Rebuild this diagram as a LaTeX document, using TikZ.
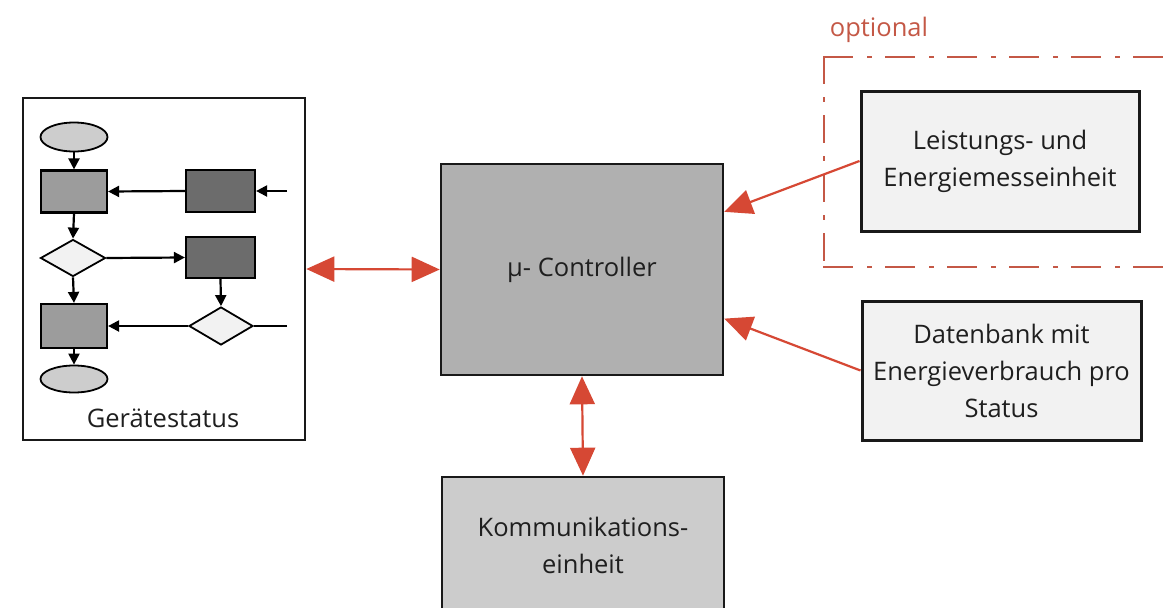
\documentclass[tikz,border=0pt]{standalone}
\usepackage{fontspec}
\setmainfont{Open Sans}
\usetikzlibrary{arrows.meta,shapes.geometric,calc}

\definecolor{linkred}{RGB}{214,72,52}
\definecolor{optred}{RGB}{196,88,70}
\definecolor{midgray}{RGB}{156,156,156}
\definecolor{darkgray}{RGB}{108,108,108}
\definecolor{ctrlgray}{RGB}{176,176,176}
\definecolor{commgray}{RGB}{204,204,204}
\definecolor{palegray}{RGB}{242,242,242}
\definecolor{ovalgray}{RGB}{205,205,205}

\tikzset{
  txt/.style={font=\fontsize{25.5}{37}\selectfont, text=black!88, align=center},
  bigbox/.style={draw=black!90, line width=2.6pt, inner sep=0pt, txt},
  oval/.style={ellipse, draw=black, line width=1.8pt, fill=ovalgray, inner sep=0pt, minimum width=67pt, minimum height=29pt},
  procbox/.style={draw=black, line width=2.2pt, fill=midgray, inner sep=0pt, minimum width=66pt, minimum height=42pt},
  darkbox/.style={draw=black, line width=2.2pt, fill=darkgray, inner sep=0pt, minimum width=69pt, minimum height=42pt},
  decide/.style={diamond, draw=black, line width=1.8pt, fill=palegray, inner sep=0pt, minimum width=65pt, minimum height=37pt},
  flow/.style={draw=black, line width=2.2pt, -{Triangle[length=11pt,width=11pt]}},
  link/.style={draw=linkred, line width=2.2pt, fill=linkred},
  bihead/.style={link, {Triangle[length=28pt,width=25pt]}-{Triangle[length=28pt,width=25pt]}},
  onehead/.style={link, -{Triangle[length=28pt,width=25pt]}},
  optframe/.style={optred, line width=2.4pt, line cap=rect},
}

\begin{document}
\begin{tikzpicture}[x=1pt,y=-1pt]
\clip (0,0) rectangle (1168,608);
\fill[white] (0,0) rectangle (1168,608);

% device status panel with its small flowchart
\node[bigbox, fill=white, minimum width=282pt, minimum height=342pt] (gs) at (164,269) {};
\node[txt] (gslabel) at (163,418) {Gerätestatus};

\node[oval] (e1) at (74,137) {};
\node[procbox] (r1) at (74,191.5) {};
\node[decide] (d1) at (73,258) {};
\node[procbox, minimum height=44pt] (r2) at (74,326) {};
\node[oval, minimum height=27pt] (e2) at (74,379) {};
\node[darkbox] (k1) at (220.5,191) {};
\node[darkbox, minimum height=41pt] (k2) at (220.5,257.5) {};
\node[decide, minimum width=64pt, minimum height=38pt] (d2) at (221,326) {};
\coordinate (in1) at (287,191);
\coordinate (in2) at (287,326);

\draw[flow] (e1.south) -- (r1.north);
\draw[flow] (in1) -- (k1.east);
\draw[flow] (k1.west) -- (r1.east);
\draw[flow] (r1.south) -- (d1.north);
\draw[flow] (d1.east) -- (k2.west);
\draw[flow] (d1.south) -- (r2.north);
\draw[flow] (k2.south) -- (d2.north);
\draw[black, line width=2.2pt] (in2) -- (d2.east);
\draw[flow] (d2.west) -- (r2.east);
\draw[flow] (r2.south) -- (e2.north);

% central controller and communication unit
\node[bigbox, fill=ctrlgray, minimum width=282pt, minimum height=211pt] (ctrl) at (582,269.5) {µ- Controller};
\node[bigbox, fill=commgray, minimum width=282pt, minimum height=150pt] (comm) at (583,552) {};
\node[txt] (commlabel) at (583,545) {Kommunikations-\\einheit};

% optional measuring unit inside a dash-dotted frame, open to the right
\coordinate (ftl) at (824,57);
\coordinate (fbl) at (824,267);
\coordinate (ftr) at (1170,57);
\coordinate (fbr) at (1170,267);
\draw[optframe, dash pattern=on 28pt off 16pt on 3pt off 15pt] (ftl) -- (ftr);
\draw[optframe, dash pattern=on 28pt off 16pt on 3pt off 15pt] (fbl) -- (fbr);
\draw[optframe, dash pattern=on 26pt off 15pt on 3pt off 15pt] (ftl) -- (fbl);
\node[txt, text=optred] (opt) at (879,30) {optional};
\node[bigbox, line width=3pt, fill=palegray, minimum width=278pt, minimum height=140pt] (leist) at (1000,161) {Leistungs- und\\Energiemesseinheit};

% database box
\node[bigbox, line width=3pt, fill=palegray, minimum width=279pt, minimum height=139pt] (daten) at (1001.5,370.5) {Datenbank mit\\Energieverbrauch pro\\Status};

% red connections
\draw[bihead] (gs.east) -- (ctrl.west);
\draw[bihead] (ctrl.south) -- (comm.north);
\draw[onehead] (leist.west) -- ($(ctrl.north east)!0.23!(ctrl.south east)$);
\draw[onehead] (daten.west) -- ($(ctrl.north east)!0.73!(ctrl.south east)$);
\end{tikzpicture}
\end{document}
